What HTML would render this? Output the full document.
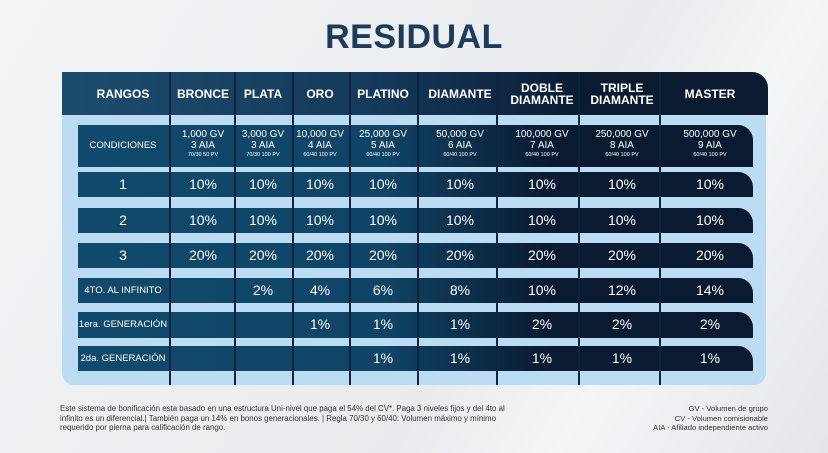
<!DOCTYPE html>
<html><head><meta charset="utf-8">
<style>
body{margin:0;width:828px;height:453px;overflow:hidden;background:linear-gradient(120deg,#f3f4f6 0%,#e9ebee 60%,#f4f5f7 75%,#e4e6ea 100%);font-family:"Liberation Sans",sans-serif;position:relative}
.abs{position:absolute}
#title{left:0;width:828px;top:18px;text-align:center;font-size:34px;font-weight:bold;color:#1d3c5c;letter-spacing:0.5px}
#header{left:62px;top:72px;width:706px;height:43px;background:linear-gradient(90deg,#1c4c6c 0%,#15395a 45%,#0a1a30 75%,#0a1a30 100%);border-top-right-radius:16px}
#panel{left:62px;top:115px;width:704px;height:270px;background:#bcdcf4;border-bottom-left-radius:12px;border-bottom-right-radius:12px}
.row{left:78px;width:675px;background:linear-gradient(90deg,#114a6c 0%,#104466 45%,#0a1a30 70%,#0a1a30 100%);border-top-right-radius:15px}
.vl{width:2px;background:#0d2440;top:72px;height:313px}
.cell{position:absolute;color:#fff;text-align:center;transform:translateX(-50%);white-space:nowrap}
.h{font-weight:bold;font-size:12px;line-height:12px}
.v{font-size:14px}
.c{font-size:10px;line-height:11px}
.c small{font-size:5.5px;display:block;line-height:8px}
.lbl{font-size:9.5px}
#foot1{left:60px;top:404px;font-size:7.9px;line-height:9.5px;color:#333;width:448px}
#foot2{right:60px;top:404px;font-size:7.6px;line-height:9.5px;color:#333;text-align:right}
</style></head><body>
<div id="title" class="abs">RESIDUAL</div>
<div id="header" class="abs"></div>
<div id="panel" class="abs"></div>
<div id="rows"></div>
<div id="foot1" class="abs">Este sistema de bonificación esta basado en una estructura Uni-nivel que paga el 54% del CV*. Paga 3 niveles fijos y del 4to al infinito es un diferencial.| También paga un 14% en bonos generacionales. | Regla 70/30 y 60/40: Volumen máximo y mínimo requerido por pierna para calificación de rango.</div>
<div id="foot2" class="abs">GV - Volumen de grupo<br>CV - Volumen comisionable<br>AIA - Afiliado independiente activo</div>
<script>
const ranks=["BRONCE","PLATA","ORO","PLATINO","DIAMANTE","DOBLE<br>DIAMANTE","TRIPLE<br>DIAMANTE","MASTER"];
const conditions=[["1,000 GV","3 AIA","70/30 50 PV"],["3,000 GV","3 AIA","70/30 100 PV"],["10,000 GV","4 AIA","60/40 100 PV"],["25,000 GV","5 AIA","60/40 100 PV"],["50,000 GV","6 AIA","60/40 100 PV"],["100,000 GV","7 AIA","60/40 100 PV"],["250,000 GV","8 AIA","60/40 100 PV"],["500,000 GV","9 AIA","60/40 100 PV"]];
const rowLabels=["1","2","3","4TO. AL INFINITO","1era. GENERACIÓN","2da. GENERACIÓN"];
const rowValues=[
["10%","10%","10%","10%","10%","10%","10%","10%"],
["10%","10%","10%","10%","10%","10%","10%","10%"],
["20%","20%","20%","20%","20%","20%","20%","20%"],
["","2%","4%","6%","8%","10%","12%","14%"],
["","","1%","1%","1%","2%","2%","2%"],
["","","","1%","1%","1%","1%","1%"]];
const colX=[123,203,263,320,383,460,542,622,710];
const dividers=[170,235,293,350,418,497,579,660];
const rowTop=[172,208,243,278,312,346];
const rowH=[25,25,25,25,26,25];
const root=document.getElementById('rows');
function mk(cls,css,html){const d=document.createElement('div');d.className=cls;d.style.cssText=css;if(html!==undefined)d.innerHTML=html;root.appendChild(d);return d;}
let e=mk('cell h','left:'+colX[0]+'px;top:88px;','RANGOS');


ranks.forEach((r,i)=>{const two=r.includes('<br>');const el=mk('cell h','left:'+colX[i+1]+'px;top:'+(two?82:88)+'px;',r);

});
e=mk('abs row','top:125px;height:42px;');


e=mk('cell lbl','left:'+colX[0]+'px;top:140px;','CONDICIONES');


conditions.forEach((c,i)=>{const el=mk('cell c','left:'+colX[i+1]+'px;top:129px;',c[0]+'<br>'+c[1]+'<small>'+c[2]+'</small>');

});
rowLabels.forEach((l,r)=>{
 const el=mk('abs row','top:'+rowTop[r]+'px;height:'+rowH[r]+'px;');
 
 
 const big=r<3;
 const lb=mk('cell '+(big?'v':'lbl'),'left:'+colX[0]+'px;top:'+(rowTop[r]+(big?4:7))+'px;',l);
 
 
 rowValues[r].forEach((v,i)=>{if(!v)return;const c=mk('cell v','left:'+colX[i+1]+'px;top:'+(rowTop[r]+4)+'px;',v);
 
 });
});
dividers.forEach(x=>{const d=mk('abs vl','left:'+(x-1)+'px;');

});
</script>
</body></html>
